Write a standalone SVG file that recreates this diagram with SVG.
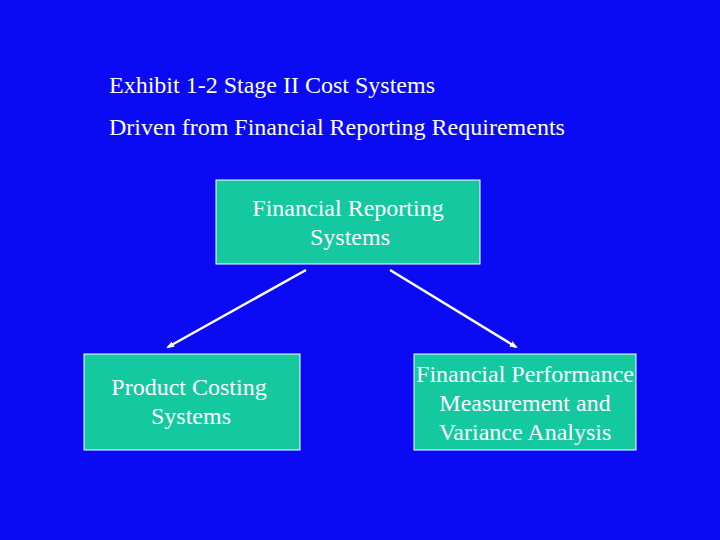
<svg xmlns="http://www.w3.org/2000/svg" width="720" height="540" viewBox="0 0 720 540">
<style>
text{font-family:"Liberation Serif",serif;fill:#fff;font-size:24px}
.box{fill:#14C8A0;stroke:#fff;stroke-width:1}
.c{text-anchor:middle}
.ln{stroke:#fff;stroke-width:2.5;marker-end:url(#ah)}
</style>
<defs><marker id="ah" markerWidth="8" markerHeight="6" refX="6" refY="3" orient="auto" markerUnits="userSpaceOnUse"><path d="M0,0L8,3L0,6z" fill="#fff"/></marker></defs>
<rect width="720" height="540" fill="#0A0AF5"/>
<text x="109" y="93">Exhibit 1-2 Stage II Cost Systems</text>
<text x="109" y="135">Driven from Financial Reporting Requirements</text>
<g id="frs"><rect class="box" x="216" y="180" width="264" height="84"/><text class="c" x="348" y="216">Financial Reporting</text><text class="c" x="350" y="245">Systems</text></g>
<g id="pcs"><rect class="box" x="84" y="354" width="216" height="96"/><text class="c" x="189" y="395">Product Costing</text><text class="c" x="191" y="424">Systems</text></g>
<g id="fpm"><rect class="box" x="414" y="354" width="222" height="96"/><text class="c" x="525" y="382">Financial Performance</text><text class="c" x="525" y="411">Measurement and</text><text class="c" x="525" y="440">Variance Analysis</text></g>
<g id="connectors"><line class="ln" x1="306" y1="270" x2="168" y2="347"/><line class="ln" x1="390" y1="270" x2="516" y2="347"/></g>
</svg>
